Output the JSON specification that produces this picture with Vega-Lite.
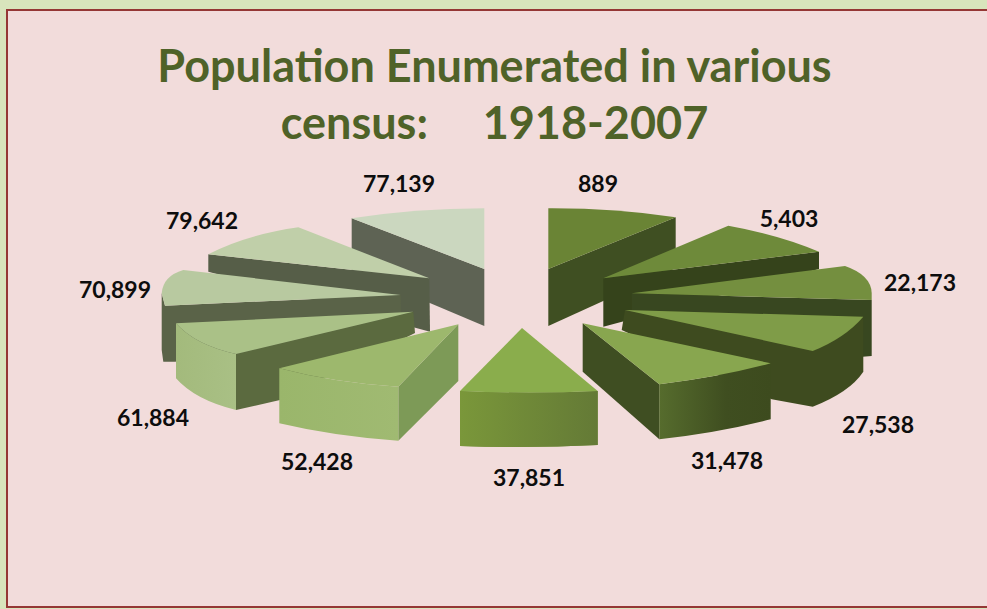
{"$schema":"https://vega.github.io/schema/vega-lite/v6.json","width":981,"height":599,"autosize":"none","padding":{"left":6,"top":9,"right":0,"bottom":1},"background":"#d8e4bc","view":{"fill":"#f2dcdb","stroke":null},
"title":{"text":["Population Enumerated in various","census:\u00a0\u00a0\u00a0\u00a0\u00a01918-2007"],"anchor":"middle","orient":"top","offset":-140,"dx":-2,"font":"Lato","fontSize":45,"fontWeight":"bold","color":"#4f6228","lineHeight":57},
"data":{"values":[{"population":889},{"population":77139},{"population":5403},{"population":79642},{"population":22173},{"population":70899},{"population":27538},{"population":61884},{"population":31478},{"population":52428},{"population":37851}]},
"resolve":{"scale":{"shape":"independent","color":"independent"}},
"layer":[
{"data":{"values":[{}]},"mark":{"type":"rule","color":"#953735","strokeWidth":2},"encoding":{"x":{"value":1}}},
{"data":{"values":[{}]},"mark":{"type":"rule","color":"#953735","strokeWidth":2},"encoding":{"y":{"value":1}}},
{"data":{"values":[{}]},"mark":{"type":"rule","color":"#953735","strokeWidth":2},"encoding":{"y":{"value":598}}},
{"mark":{"type":"point","filled":true,"size":4,"opacity":1,"strokeWidth":0},"encoding":{
"shape":{"field":"population","type":"nominal","legend":null,"scale":{"domain":[889,77139,5403,79642,22173,70899,27538,61884,31478,52428,37851],"range":[
"M51.8,-39.5L179.2,-91.2L179.2,-40.5L51.8,17.5Z",
"M-144.8,-90.2L-12.2,-39.5L-12.2,17.5L-144.8,-38.5Z",
"M106.8,-30.2L322.5,-56.8L322.5,-39.5L106.8,18.2Z",
"M-288.2,-54.2L-67.2,-30.2L-66.5,23.2L-288.2,-36.8Z",
"M135.2,-15.2L375.2,-8.5L375.2,47.5L363,48.5L135.2,36.5Z",
"M-331.5,-2.8L-95.8,-13.5L-95,30L-321.5,53.2L-333.2,53.2L-334.8,41.5L-334.8,-15.2Z",
"M128.5,1.5L366.8,8.2L366.8,63.2Q353.5,83.5,316.2,98.2L275.2,90.8L125.2,21.5Z",
"M-260.5,45.5L-83.2,3.2L-81.5,24.5L-216.5,91.5L-260.5,101.5Z",
"M86.2,14.8L162.8,75.8L162.8,130.8L86.2,63.2Z",
"M-98.2,78.2L-38.2,15.8L-38.2,72.5L-98.2,132.2Z",
"M-36.5,82.5Q32.5,85.5,101.2,82.5L101.2,136.5Q32.5,140,-36.5,137.5Z"]}},
"color":{"field":"population","type":"nominal","legend":null,"scale":{"domain":[889,77139,5403,79642,22173,70899,27538,61884,31478,52428,37851],"range":["#3f4f22","#5e6354","#35431b","#565e48","#384720","#5a6348","#3e4b1f","#5b6a3f","#3f4e22","#7d9a57","#6f8c38"]}}}},
{"transform":[{"filter":"datum.population===61884"}],"mark":{"type":"point","filled":true,"size":4,"opacity":1,"strokeWidth":0,"shape":"M-320.5,14.8Q-301.5,36.5,-260.5,45.5L-260.5,101.5Q-301.5,91.5,-320.5,69.8Z","color":{"gradient":"linear","x1":0,"y1":0,"x2":1,"y2":0,"stops":[{"offset":0,"color":"#a3ba7c"},{"offset":1,"color":"#a9c085"}]}},"encoding":{}},
{"transform":[{"filter":"datum.population===31478"}],"mark":{"type":"point","filled":true,"size":4,"opacity":1,"strokeWidth":0,"shape":"M162.8,75.8Q223.5,68.5,274.2,54.8L274.2,110.8Q223.5,124,162.8,130.8Z","color":{"gradient":"linear","x1":0,"y1":0,"x2":1,"y2":0,"stops":[{"offset":0,"color":"#566c2d"},{"offset":0.6,"color":"#3f4e20"},{"offset":1,"color":"#3d4b1e"}]}},"encoding":{}},
{"transform":[{"filter":"datum.population===52428"}],"mark":{"type":"point","filled":true,"size":4,"opacity":1,"strokeWidth":0,"shape":"M-217.2,59.8Q-161.5,74.5,-98.2,78.2L-98.2,132.2Q-161.5,128,-217.2,114.8Z","color":{"gradient":"linear","x1":0,"y1":0,"x2":1,"y2":0,"stops":[{"offset":0,"color":"#9ab66b"},{"offset":1,"color":"#a0ba72"}]}},"encoding":{}},
{"transform":[{"filter":"datum.population===37851"}],"mark":{"type":"point","filled":true,"size":4,"opacity":1,"strokeWidth":0,"shape":"M-36.5,82.5Q32.5,85.5,101.2,82.5L101.2,136.5Q32.5,140,-36.5,137.5Z","color":{"gradient":"linear","x1":0,"y1":0,"x2":1,"y2":0,"stops":[{"offset":0,"color":"#7a973a"},{"offset":1,"color":"#647a36"}]}},"encoding":{}},
{"mark":{"type":"point","filled":true,"size":4,"opacity":1,"strokeWidth":0},"encoding":{
"shape":{"field":"population","type":"nominal","legend":null,"scale":{"domain":[889,77139,5403,79642,22173,70899,27538,61884,31478,52428,37851],"range":[
"M51.8,-100.2Q118.5,-100.5,179.2,-91.2L51.8,-39.5Z",
"M-12.2,-100.2Q-81.5,-100,-144.8,-90.2L-12.2,-39.5Z",
"M106.8,-30.2L231.8,-82.8Q283.5,-73.5,322.5,-56.8Z",
"M-67.2,-30.2L-198.2,-81.2Q-251.5,-73.5,-288.2,-54.2Z",
"M135.2,-15.2L348.5,-42.5Q374.5,-33.5,375.2,-15.5L375.2,-8.5Z",
"M-95.8,-13.5L-313.2,-38.5Q-333.5,-32.5,-334.8,-15.2L-331.5,-2.8Z",
"M128.5,1.5L366.8,8.2Q348.5,29.5,316.2,42.5Z",
"M-83.2,3.2L-320.5,14.8Q-301.5,36.5,-260.5,45.5Z",
"M86.2,14.8L274.2,54.8Q223.5,68.5,162.8,75.8Z",
"M-38.2,15.8L-217.2,59.8Q-161.5,74.5,-98.2,78.2Z",
"M25.5,19.5L101.2,82.5Q32.5,85.5,-36.5,82.5Z"]}},
"color":{"field":"population","type":"nominal","legend":null,"scale":{"domain":[889,77139,5403,79642,22173,70899,27538,61884,31478,52428,37851],"range":["#6a8435","#cbd7bf","#6e8a3a","#c0cfa9","#748f3f","#b8c9a0","#7f9c48","#aac187","#88a64f","#9db86d","#8aad4c"]}}}},
{"mark":{"type":"text","font":"Lato","fontSize":23,"fontWeight":"bold","color":"#0d0d0d","align":"center","baseline":"middle","dy":1},"encoding":{
"x":{"field":"population","type":"quantitative","axis":null,"scale":{"type":"linear","zero":false,"nice":false,"domain":[889,5403,22173,27538,31478,37851,52428,61884,70899,77139,79642],"range":[592,783,914,872,721,523,311,147,109,393,196]}},
"y":{"field":"population","type":"quantitative","axis":null,"scale":{"type":"linear","zero":false,"nice":false,"domain":[889,5403,22173,27538,31478,37851,52428,61884,70899,77139,79642],"range":[175,210,274,416,452,469,453,409,281,175,212]}},
"text":{"field":"population","type":"quantitative","format":","}}}
]}
